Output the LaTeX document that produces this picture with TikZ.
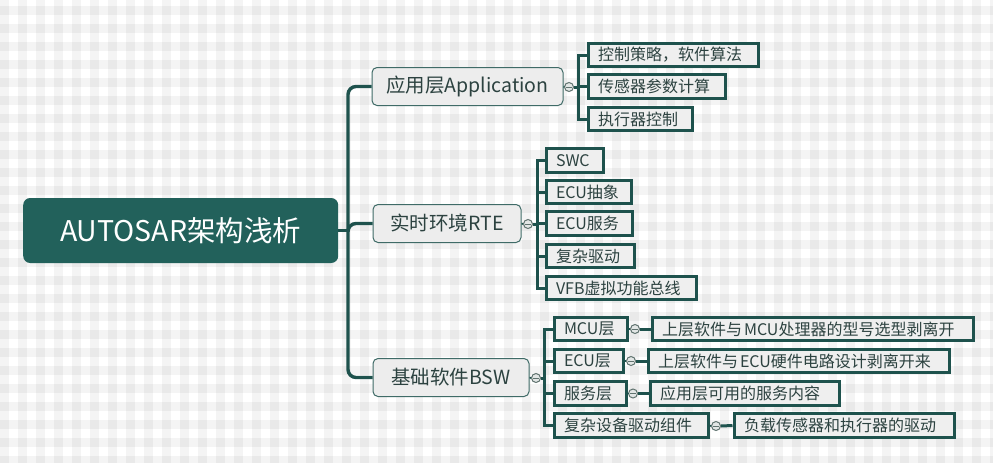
\documentclass[tikz,border=0pt]{standalone}
\usepackage{fontspec}
\setmainfont{Noto Sans CJK SC}
\definecolor{teal0}{HTML}{22615B}
\definecolor{tline}{HTML}{1E524D}
\definecolor{tbord}{HTML}{3F6B67}
\definecolor{ntext}{HTML}{2C4240}
\definecolor{nfill}{HTML}{EDEDED}
\definecolor{lfill}{HTML}{EFEFEF}
\definecolor{cdraw}{HTML}{60736F}
\definecolor{cfill}{HTML}{E2E6E5}
\tikzset{
  rootbox/.style={draw=none, fill=teal0, rounded corners=7pt, text=white, font=\fontsize{28.5}{31}\selectfont, inner sep=0pt, anchor=west},
  branchbox/.style={draw=tbord, line width=1pt, fill=nfill, rounded corners=5pt, text=ntext, font=\fontsize{19.5}{22}\selectfont, inner sep=0pt, minimum height=38pt, anchor=west},
  leafbox/.style={draw=tline, line width=3pt, fill=lfill, text=ntext, font=\fontsize{16}{18}\selectfont, inner xsep=10pt, inner ysep=0pt, minimum height=23.5pt, align=left, anchor=west},
  collapse/.style={circle, draw=cdraw, fill=cfill, line width=1pt, minimum size=9pt, inner sep=0pt,
    path picture={\draw[cdraw, line width=0.9pt] ([xshift=-2.6pt]path picture bounding box.center) -- ([xshift=2.6pt]path picture bounding box.center);}},
  mainline/.style={draw=tline, line width=3.4pt, rounded corners=8pt},
  childline/.style={draw=tline, line width=3pt},
  stub/.style={draw=tline, line width=1.6pt},
}
\begin{document}
\begin{tikzpicture}[x=1pt, y=-1pt]
\useasboundingbox (0,0) rectangle (993,463);
% background gingham
\fill[white] (0,0) rectangle (993,463);
\foreach \i in {0,...,55} \fill[black, opacity=0.045] (\i*18,0) rectangle (\i*18+9,463);
\foreach \j in {0,...,25} \fill[black, opacity=0.045] (0,6+\j*18) rectangle (993,15+\j*18);

% root and branches
\node[rootbox, minimum width=315pt, minimum height=65pt] (root) at (23,230.5) {AUTOSAR架构浅析};
\node[branchbox, minimum width=191pt] (app) at (371.5,86.5) {应用层Application};
\node[branchbox, minimum width=148pt] (rte) at (372.5,223.5) {实时环境RTE};
\node[branchbox, minimum width=156pt] (bsw) at (372.5,377.5) {基础软件BSW};

\coordinate (trunk) at (348,230.5);
\draw[mainline] (root.east) -- (trunk);
\draw[mainline] (trunk) |- (app.west);
\draw[mainline] (trunk) |- (rte.west);
\draw[mainline] (trunk) |- (bsw.west);

% collapse markers and junctions
\node[collapse] (appc) at (569,87) {};
\node[collapse] (rtec) at (528,224) {};
\node[collapse] (bswc) at (536,378) {};
\coordinate (appj) at (578,87);
\coordinate (rtej) at (537,224);
\coordinate (bswj) at (544,378);

% application leaves
\node[leafbox, text width=150pt] (a1) at (586.5,55) {控制策略，软件算法};
\node[leafbox, text width=117pt] (a2) at (586.5,86.5) {传感器参数计算};
\node[leafbox, text width=84pt] (a3) at (586.5,119) {执行器控制};

% RTE leaves
\node[leafbox, text width=37pt] (r1) at (544.5,160.5) {SWC};
\node[leafbox, text width=65pt] (r2) at (544.5,192) {ECU抽象};
\node[leafbox, text width=66pt] (r3) at (544.5,223.5) {ECU服务};
\node[leafbox, text width=68pt] (r4) at (544.5,256) {复杂驱动};
\node[leafbox, text width=130pt] (r5) at (544.5,288) {VFB虚拟功能总线};

% BSW children
\node[leafbox, text width=53pt] (b1) at (552.5,329) {MCU层};
\node[leafbox, text width=49pt] (b2) at (552.5,361) {ECU层};
\node[leafbox, text width=52pt] (b3) at (552.5,393.5) {服务层};
\node[leafbox, text width=134pt] (b4) at (552.5,425.5) {复杂设备驱动组件};

\node[collapse] (b1c) at (635,329) {};
\node[collapse] (b2c) at (631,361) {};
\node[collapse] (b3c) at (633,393.5) {};
\node[collapse] (b4c) at (716,426) {};

\node[leafbox, text width=301pt] (d1) at (650.5,329) {上层软件与\hspace{2pt}MCU处理器的型号选型剥离开};
\node[leafbox, text width=281pt] (d2) at (646.5,361) {上层软件与\hspace{2pt}ECU硬件电路设计剥离开来};
\node[leafbox, text width=169pt] (d3) at (648.5,393.5) {应用层可用的服务内容};
\node[leafbox, text width=200pt] (d4) at (732.5,425.5) {负载传感器和执行器的驱动};

% connectors
\draw[stub] (app.east) -- (appc.west);
\draw[stub] (rte.east) -- (rtec.west);
\draw[stub] (bsw.east) -- (bswc.west);
\draw[childline] (appc.east) -- (appj);
\draw[childline] (rtec.east) -- (rtej);
\draw[childline] (bswc.east) -- (bswj);
\draw[childline] (appj) |- (a1.west);
\draw[childline] (appj) |- (a2.west);
\draw[childline] (appj) |- (a3.west);
\draw[childline] (rtej) |- (r1.west);
\draw[childline] (rtej) |- (r2.west);
\draw[childline] (rtej) |- (r3.west);
\draw[childline] (rtej) |- (r4.west);
\draw[childline] (rtej) |- (r5.west);
\draw[childline] (bswj) |- (b1.west);
\draw[childline] (bswj) |- (b2.west);
\draw[childline] (bswj) |- (b3.west);
\draw[childline] (bswj) |- (b4.west);
\draw[stub] (b1.east) -- (b1c.west);
\draw[stub] (b2.east) -- (b2c.west);
\draw[stub] (b3.east) -- (b3c.west);
\draw[stub] (b4.east) -- (b4c.west);
\draw[childline] (b1c.east) -- (d1.west);
\draw[childline] (b2c.east) -- (d2.west);
\draw[childline] (b3c.east) -- (d3.west);
\draw[childline] (b4c.east) -- (d4.west);
\end{tikzpicture}
\end{document}
